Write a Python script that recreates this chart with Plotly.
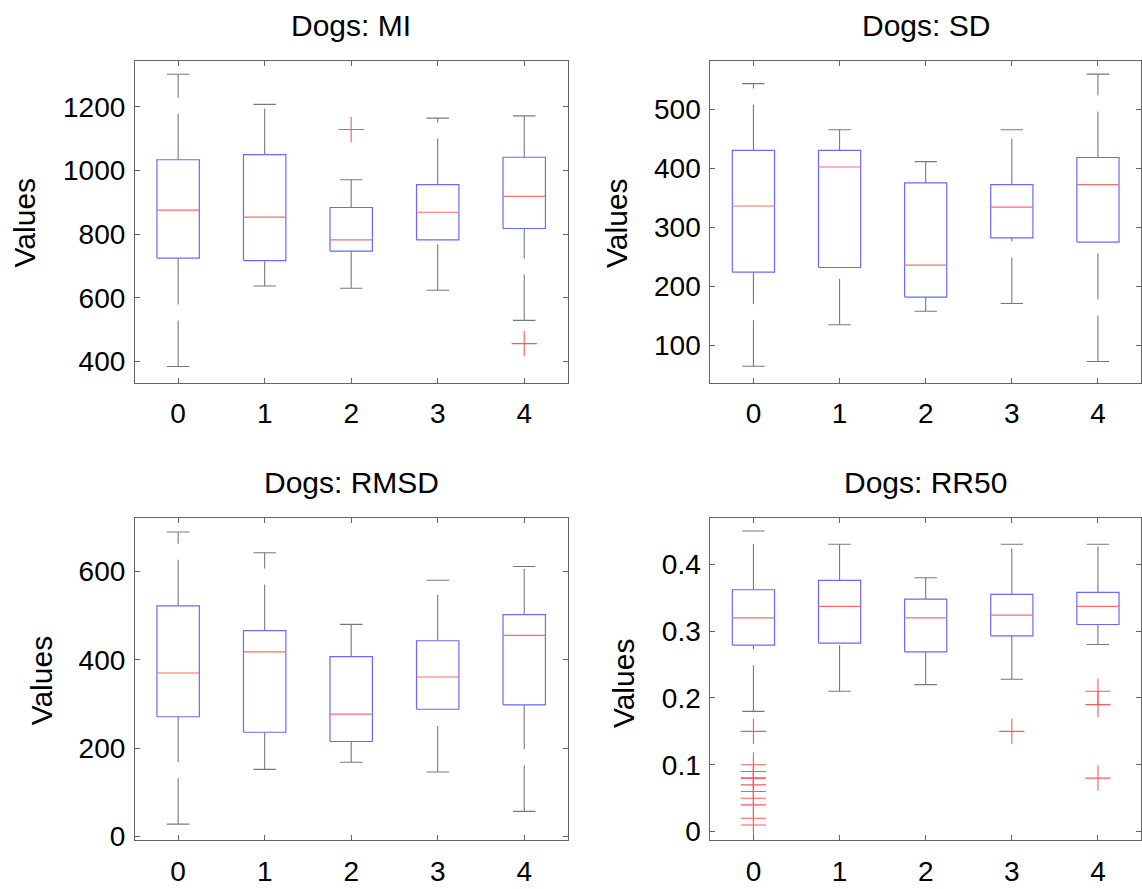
import plotly.graph_objects as go

W, H = 1142, 889

groups = [0, 1, 2, 3, 4]
tick_labels = ["0", "1", "2", "3", "4"]

# ---- Dogs: MI ----
mi_upper = [1303, 1208, 971, 1165, 1172]
mi_q3 = [1034, 1050, 884, 956, 1042]
mi_median = [876, 854, 782, 869, 919]
mi_q1 = [725, 717, 747, 782, 818]
mi_lower = [384, 637, 630, 624, 529]
mi_out_x = [2, 4]
mi_out_y = [1129, 456]

# ---- Dogs: SD ----
sd_upper = [543, 465, 411, 465, 559]
sd_q3 = [430, 430, 375, 372, 418]
sd_median = [336, 402, 236, 334, 372]
sd_q1 = [224, 232, 182, 282, 275]
sd_lower = [65, 135, 158, 171, 73]
sd_out_x = []
sd_out_y = []

# ---- Dogs: RMSD ----
rmsd_upper = [689, 642, 480, 580, 611]
rmsd_q3 = [522, 466, 407, 443, 502]
rmsd_median = [370, 418, 277, 361, 455]
rmsd_q1 = [271, 236, 215, 288, 298]
rmsd_lower = [28, 152, 168, 146, 57]
rmsd_out_x = []
rmsd_out_y = []

# ---- Dogs: RR50 ----
rr_upper = [0.45, 0.43, 0.38, 0.43, 0.43]
rr_q3 = [0.362, 0.376, 0.348, 0.355, 0.358]
rr_median = [0.320, 0.337, 0.320, 0.324, 0.337]
rr_q1 = [0.279, 0.282, 0.269, 0.293, 0.310]
rr_lower = [0.18, 0.21, 0.22, 0.228, 0.28]
rr_out_x = [0, 0, 0, 0, 0, 0, 0, 0, 0, 0, 0, 3, 4, 4, 4]
rr_out_y = [0.15, 0.10, 0.09, 0.08, 0.08, 0.07, 0.06, 0.05, 0.04, 0.02, 0.01,
            0.15, 0.21, 0.19, 0.08]

panels = [
    dict(title="Dogs: MI", upper=mi_upper, q3=mi_q3, med=mi_median, q1=mi_q1,
         lower=mi_lower, ox=mi_out_x, oy=mi_out_y,
         yrange=[333, 1344], ytick=[400, 600, 800, 1000, 1200],
         xdom=[135, 568], ydom=[62, 388], vx=24.5, vy=225),
    dict(title="Dogs: SD", upper=sd_upper, q3=sd_q3, med=sd_median, q1=sd_q1,
         lower=sd_lower, ox=sd_out_x, oy=sd_out_y,
         yrange=[37, 581], ytick=[100, 200, 300, 400, 500],
         xdom=[711, 1142], ydom=[62, 388], vx=617.5, vy=226),
    dict(title="Dogs: RMSD", upper=rmsd_upper, q3=rmsd_q3, med=rmsd_median, q1=rmsd_q1,
         lower=rmsd_lower, ox=rmsd_out_x, oy=rmsd_out_y,
         yrange=[-9, 721], ytick=[0, 200, 400, 600],
         xdom=[135, 568], ydom=[525, 852], vx=41.7, vy=690),
    dict(title="Dogs: RR50", upper=rr_upper, q3=rr_q3, med=rr_median, q1=rr_q1,
         lower=rr_lower, ox=rr_out_x, oy=rr_out_y,
         yrange=[-0.0133, 0.4695], ytick=[0, 0.1, 0.2, 0.3, 0.4],
         xdom=[711, 1142], ydom=[525, 852], vx=624, vy=692),
]

BOX_HALF = 0.245
CAP_HALF = 0.13
BLUE = "rgb(105,105,255)"
RED = "rgb(255,105,105)"
WHISK = "rgb(120,120,120)"
FRAME = "rgb(100,100,100)"
FONT = "Liberation Sans, Arial, sans-serif"

fig = go.Figure()
annotations = []

for k, p in enumerate(panels):
    n = "" if k == 0 else str(k + 1)
    xa, ya = "x" + n, "y" + n
    for i, g in enumerate(groups):
        # box
        fig.add_trace(go.Scatter(
            x=[g - BOX_HALF, g + BOX_HALF, g + BOX_HALF, g - BOX_HALF, g - BOX_HALF],
            y=[p["q1"][i], p["q1"][i], p["q3"][i], p["q3"][i], p["q1"][i]],
            mode="lines", line=dict(color=BLUE, width=1.2),
            xaxis=xa, yaxis=ya, showlegend=False, hoverinfo="skip"))
        # median
        fig.add_trace(go.Scatter(
            x=[g - BOX_HALF, g + BOX_HALF], y=[p["med"][i], p["med"][i]],
            mode="lines", line=dict(color=RED, width=1.2),
            xaxis=xa, yaxis=ya, showlegend=False, hoverinfo="skip"))
        # whiskers (dashed, drawn low -> high)
        for y0, y1 in [(p["q3"][i], p["upper"][i]), (p["lower"][i], p["q1"][i])]:
            fig.add_trace(go.Scatter(
                x=[g, g], y=[y0, y1], mode="lines",
                line=dict(color=WHISK, width=1.1, dash="46px,16px"),
                xaxis=xa, yaxis=ya, showlegend=False, hoverinfo="skip"))
        # caps
        for yc in [p["upper"][i], p["lower"][i]]:
            fig.add_trace(go.Scatter(
                x=[g - CAP_HALF, g + CAP_HALF], y=[yc, yc], mode="lines",
                line=dict(color=WHISK, width=1.1),
                xaxis=xa, yaxis=ya, showlegend=False, hoverinfo="skip"))
    if p["ox"]:
        fig.add_trace(go.Scatter(
            x=p["ox"], y=p["oy"], mode="markers",
            marker=dict(symbol="cross-thin", size=18,
                        line=dict(color="rgb(255,90,90)", width=1.1)),
            xaxis=xa, yaxis=ya, showlegend=False, hoverinfo="skip"))

    x0, x1 = p["xdom"]
    y0p, y1p = p["ydom"]
    xdom = [x0 / W, min(1.0, x1 / W)]
    ydom = [1 - y1p / H, 1 - y0p / H]
    axis_common = dict(showline=True, linecolor=FRAME, linewidth=1, mirror="ticks",
                       ticks="inside", ticklen=5, tickcolor=FRAME, tickwidth=1,
                       showgrid=False, zeroline=False,
                       tickfont=dict(family=FONT, size=28, color="black"))
    fig.layout["xaxis" + n] = dict(domain=xdom, anchor=ya, range=[-0.5, 4.5],
                                   tickvals=groups, ticktext=tick_labels,
                                   ticklabelstandoff=6, **axis_common)
    fig.layout["yaxis" + n] = dict(domain=ydom, anchor=xa, range=p["yrange"],
                                   tickvals=p["ytick"], ticklabelstandoff=3,
                                   **axis_common)
    annotations.append(dict(text=p["title"], xref="paper", yref="paper",
                            x=(x0 + x1) / 2 / W, y=1 - (y0p - 36) / H,
                            xanchor="center", yanchor="middle", showarrow=False,
                            font=dict(family=FONT, size=30, color="black")))
    annotations.append(dict(text="Values", xref="paper", yref="paper",
                            x=p["vx"] / W, y=1 - p["vy"] / H, textangle=-90,
                            xanchor="center", yanchor="middle", showarrow=False,
                            font=dict(family=FONT, size=30, color="black")))

fig.update_layout(width=W, height=H, margin=dict(l=0, r=0, t=0, b=0),
                  paper_bgcolor="white", plot_bgcolor="white",
                  annotations=annotations, showlegend=False)

fig.write_html("out.html")
